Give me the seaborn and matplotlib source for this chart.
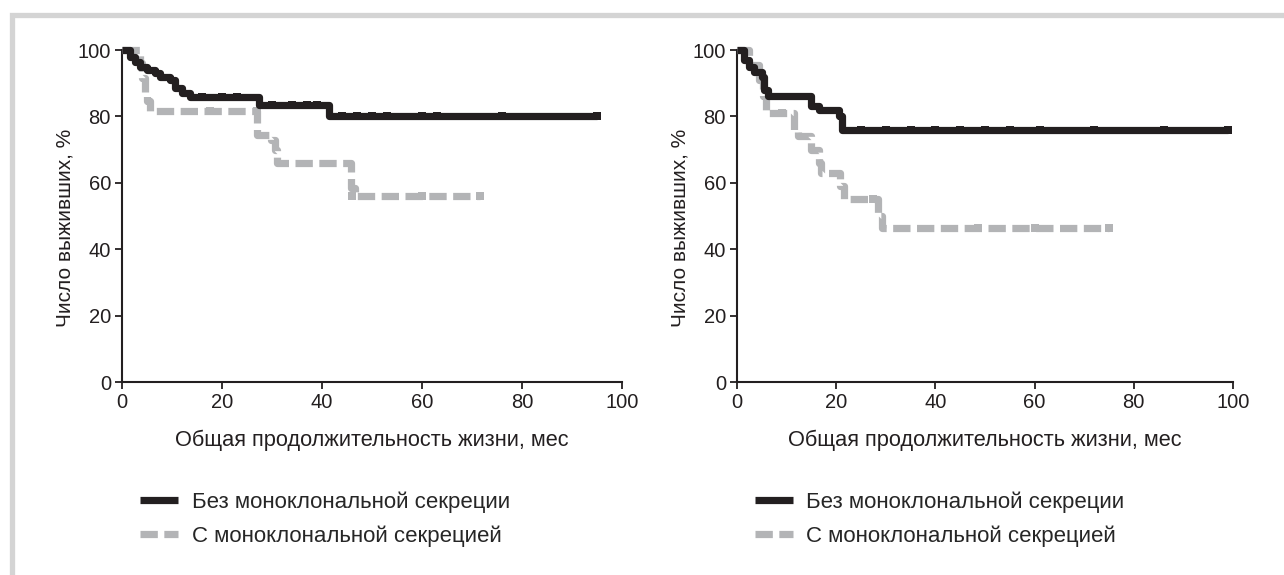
import numpy as np
import pandas as pd
import matplotlib
matplotlib.use("Agg")
import matplotlib.pyplot as plt
from matplotlib.lines import Line2D
from matplotlib.patches import Rectangle
import seaborn as sns

# ── Data ─────────────────────────────────────────────────────
# left panel
L_NO_T = [0, 1.5, 2.5, 3.5, 5, 6.5, 7.5, 9.5, 10.5, 12, 13.5, 27.3, 41.3, 95]
L_NO_S = [100, 98, 96.5, 95, 94, 93, 92, 91, 88.5, 87, 85.7, 83.5, 80, 80]
L_NO_CT = [16, 20, 23, 30, 34, 37, 39, 44, 47, 50, 53, 60, 63, 76, 95]
L_NO_CS = [85.7, 85.7, 85.7, 83.5, 83.5, 83.5, 83.5, 80, 80, 80, 80, 80, 80, 80, 80]

L_MC_T = [0, 3.5, 4, 4.5, 5, 5.5, 27, 29.7, 30.5, 31, 45.8, 46.5, 71.6]
L_MC_S = [100, 96, 91.5, 87, 84.5, 81.5, 74.5, 73, 70, 66, 58.5, 56, 56]
L_MC_CT = [17.5, 27, 46, 60, 71.6]
L_MC_CS = [81.5, 81.5, 56, 56, 56]

# right panel
R_NO_T = [0, 1.5, 2.5, 3.5, 5, 5.5, 6.3, 15, 16.5, 20.5, 21.1, 99]
R_NO_S = [100, 97, 95, 93.5, 92, 88, 86, 83, 82, 80, 76, 76]
R_NO_CT = [25, 30, 35, 40, 45, 50, 55, 61, 72, 86, 99]
R_NO_CS = [76, 76, 76, 76, 76, 76, 76, 76, 76, 76, 76]

R_MC_T = [0, 2.5, 4.5, 5.2, 5.8, 11.5, 12.2, 15, 16.5, 17, 20.8, 21.5, 28.5, 29.3, 75]
R_MC_S = [100, 95.5, 91, 86, 81, 76, 74, 70, 66, 63, 59, 55, 50, 46.5, 46.5]
R_MC_CT = [9, 27.5, 48.5, 60, 75]
R_MC_CS = [81, 55, 46.5, 46.5, 46.5]

LABEL_NO = 'Без моноклональной секреции'
LABEL_MC = 'С моноклональной секрецией'
XLABEL = 'Общая продолжительность жизни, мес'
YLABEL = 'Число выживших, %'
TICKS = [0, 20, 40, 60, 80, 100]

BLACK = '#231f20'
GREY = '#b3b4b6'

sns.set_theme(style='white')
plt.rcParams['font.family'] = ['Liberation Sans', 'DejaVu Sans']

W, H = 1284, 575
fig = plt.figure(figsize=(W / 100, H / 100), dpi=100)


def px_axes(x0, x1, y0, y1):
    return fig.add_axes([x0 / W, 1 - y1 / H, (x1 - x0) / W, (y1 - y0) / H])


LW = 5.2
DASH = (0, (2.4, 0.9))


def draw_panel(ax, no_t, no_s, no_ct, no_cs, mc_t, mc_s, mc_ct, mc_cs):
    d_no = pd.DataFrame({'t': no_t, 's': no_s})
    d_mc = pd.DataFrame({'t': mc_t, 's': mc_s})
    sns.lineplot(data=d_mc, x='t', y='s', ax=ax, color=GREY, lw=LW,
                 drawstyle='steps-post', linestyle=DASH, dash_capstyle='butt',
                 clip_on=False, zorder=3)
    sns.lineplot(data=d_no, x='t', y='s', ax=ax, color=BLACK, lw=LW,
                 drawstyle='steps-post', solid_capstyle='butt',
                 clip_on=False, zorder=4)
    sns.scatterplot(x=mc_ct, y=mc_cs, ax=ax, color=GREY, marker='s', s=40,
                    linewidth=0, clip_on=False, zorder=3)
    sns.scatterplot(x=no_ct, y=no_cs, ax=ax, color=BLACK, marker='s', s=40,
                    linewidth=0, clip_on=False, zorder=4)

    ax.set_xlim(0, 100)
    ax.set_ylim(0, 100)
    ax.set_xticks(TICKS)
    ax.set_yticks(TICKS)
    ax.set_xlabel(XLABEL, fontsize=15.7, color=BLACK, va='center')
    ax.set_ylabel(YLABEL, fontsize=15, color=BLACK, va='center')
    ax.xaxis.set_label_coords(0.5, -0.175)
    ax.yaxis.set_label_coords(-0.114, 0.464)
    ax.tick_params(axis='both', which='both', direction='out', length=5,
                   width=1.3, color=BLACK, labelsize=14.5, labelcolor=BLACK,
                   bottom=True, left=True, pad=3)
    sns.despine(ax=ax)
    for side in ('left', 'bottom'):
        ax.spines[side].set_color(BLACK)
        ax.spines[side].set_linewidth(1.5)
    ax.set_facecolor('white')

    handles = [Line2D([], [], color=BLACK, lw=LW, solid_capstyle='butt'),
               Line2D([], [], color=GREY, lw=LW, linestyle=DASH,
                      dash_capstyle='butt')]
    ax.legend(handles, [LABEL_NO, LABEL_MC], loc='center left',
              bbox_to_anchor=(0.036, -0.4127), frameon=False, fontsize=16,
              handlelength=1.72, handletextpad=0.6, labelspacing=0.55,
              borderaxespad=0, borderpad=0)


ax_l = px_axes(122, 622, 50, 382)
ax_r = px_axes(737, 1233, 50, 382)
draw_panel(ax_l, L_NO_T, L_NO_S, L_NO_CT, L_NO_CS,
           L_MC_T, L_MC_S, L_MC_CT, L_MC_CS)
draw_panel(ax_r, R_NO_T, R_NO_S, R_NO_CT, R_NO_CS,
           R_MC_T, R_MC_S, R_MC_CT, R_MC_CS)

# light grey frame, cut at right and bottom
fig.patches.append(Rectangle((12 / W, -0.2), 1.2, 1.2 - 15 / H,
                             transform=fig.transFigure, fill=False,
                             edgecolor='#d4d4d4', lw=3.8, zorder=0))

fig.savefig('out.png', dpi=100, facecolor='white')
